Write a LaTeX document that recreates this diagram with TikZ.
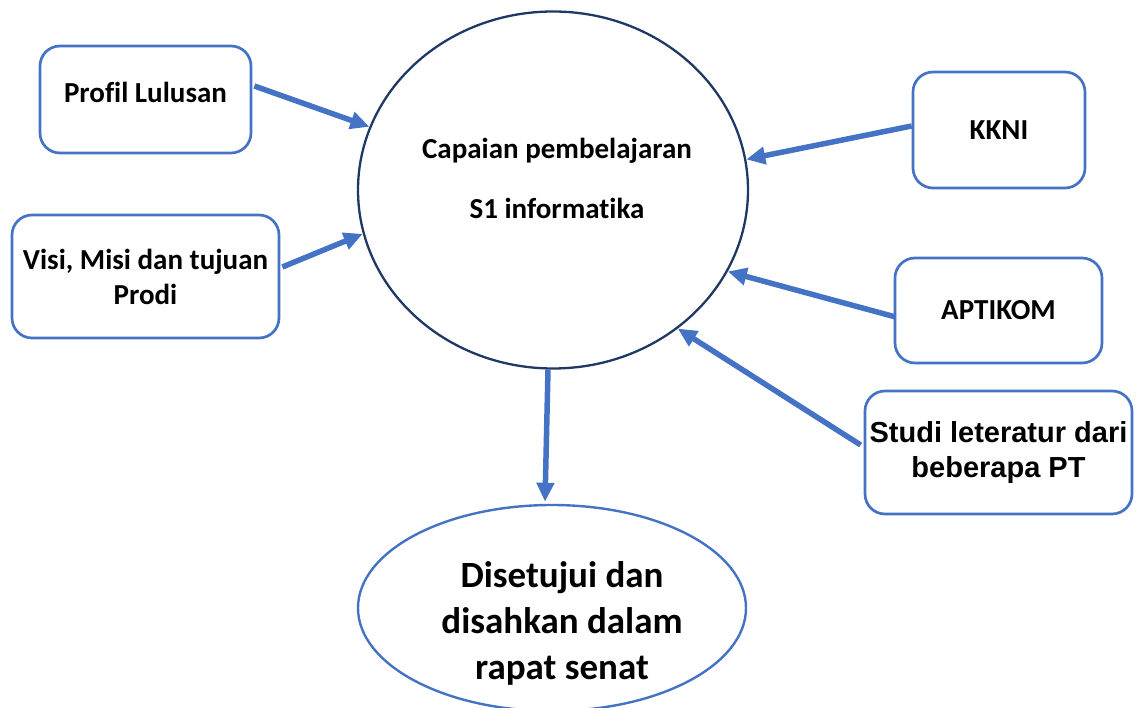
\documentclass[tikz,border=0pt]{standalone}
\usepackage{fontspec}
\setmainfont{Carlito}[Ligatures=NoCommon]
\newfontfamily\arialfont{Liberation Sans}
\usetikzlibrary{shapes.geometric,arrows.meta}
\definecolor{accblue}{HTML}{4472C4}
\definecolor{navy}{HTML}{203864}
\tikzset{
  srcbox/.style={draw=accblue, line width=2.7pt, rounded corners=20pt, align=center,
    inner sep=0pt, font=\fontsize{29}{35}\selectfont\bfseries},
  flow/.style={draw=accblue, line width=5.5pt, -{Triangle[length=19pt,width=17pt]}},
}
\begin{document}
\begin{tikzpicture}[x=1pt,y=-1pt]
\useasboundingbox (0,0) rectangle (1136,708);
% central ellipse
\node[ellipse, draw=navy, line width=2.3pt, minimum width=390pt, minimum height=357pt, inner sep=0pt,
  label={[align=center, yshift=12pt, xshift=4pt, font=\fontsize{29}{60}\selectfont\bfseries]center:Capaian pembelajaran\\S1 informatika}]
  (main) at (553,190) {};
% result ellipse
\node[ellipse, draw=accblue, line width=2.4pt, minimum width=388pt, minimum height=206pt, inner sep=0pt,
  label={[align=center, yshift=-15pt, xshift=10pt, font=\fontsize{37}{46}\selectfont\bfseries]center:Disetujui dan\\disahkan dalam\\rapat senat}]
  (bot) at (552,608) {};
% source boxes
\node[srcbox, minimum width=211pt, minimum height=107pt, text depth=14pt] (prof) at (145.5,99.5) {Profil Lulusan};
\node[srcbox, minimum width=267pt, minimum height=123pt] (visi) at (145.5,276.5) {Visi, Misi dan tujuan\\Prodi};
\node[srcbox, minimum width=172pt, minimum height=116pt] (kkni) at (999,130) {KKNI};
\node[srcbox, minimum width=207pt, minimum height=105pt] (apti) at (998.5,310.5) {APTIKOM};
\node[srcbox, minimum width=267pt, minimum height=123pt, font=\fontsize{29}{35}\selectfont\arialfont\bfseries] (stud) at (998.5,452.5) {Studi leteratur dari\\beberapa PT};
% connectors
\draw[flow] ([yshift=13.5pt,xshift=2pt]prof.east) -- (main.161.3);
\draw[flow] ([yshift=9.5pt,xshift=2pt]visi.east) -- (main.193.9);
\draw[flow] ([yshift=4pt]kkni.west) -- (main.9.7);
\draw[flow] ([yshift=-6.5pt,xshift=2pt]apti.west) -- (main.-25.2);
\draw[flow] ([yshift=7.5pt,xshift=-3pt]stud.west) -- (main.-48.6);
\draw[flow] ([xshift=-5pt]main.south) -- ([xshift=-7pt,yshift=2pt]bot.north);
\end{tikzpicture}
\end{document}
